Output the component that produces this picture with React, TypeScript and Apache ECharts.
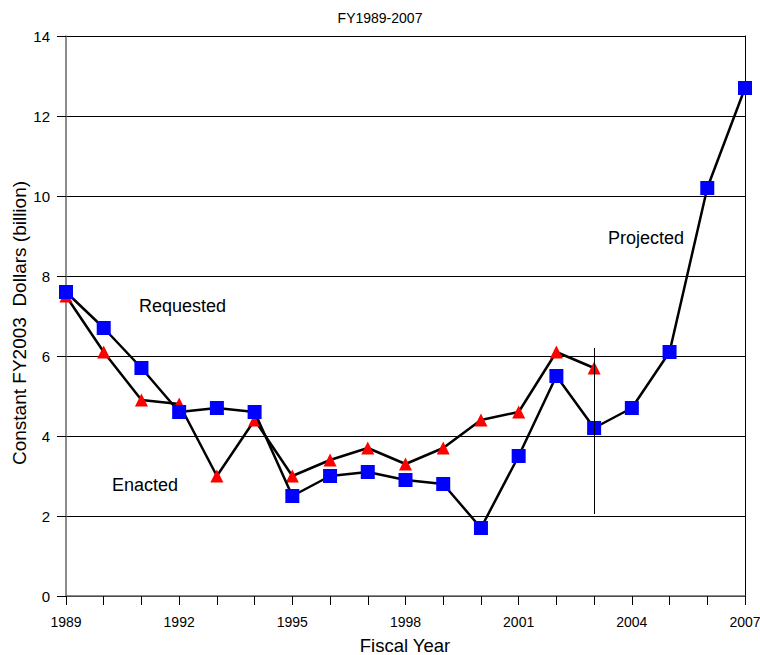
import React, { useEffect, useRef } from "react";
import * as echarts from "echarts";

const years = ["1989","1990","1991","1992","1993","1994","1995","1996","1997","1998","1999","2000","2001","2002","2003","2004","2005","2006","2007"];
const requested = [7.6, 6.7, 5.7, 4.6, 4.7, 4.6, 2.5, 3.0, 3.1, 2.9, 2.8, 1.7, 3.5, 5.5, 4.2, 4.7, 6.1, 10.2, 12.7];
const enacted = [7.5, 6.1, 4.9, 4.8, 3.0, 4.4, 3.0, 3.4, 3.7, 3.3, 3.7, 4.4, 4.6, 6.1, 5.7];
const dividerYear = "2003";
const dividerRange = [2.05, 6.2];

const FONT = "Liberation Sans, Arial, sans-serif";

export default function App() {
  const ref = useRef<HTMLDivElement>(null);
  useEffect(() => {
    document.body.style.margin = "0";
    const chart = echarts.init(ref.current!, null, { renderer: "svg" });
    chart.setOption({
      animation: false,
      backgroundColor: "#fff",
      title: {
        text: "FY1989-2007",
        left: "center",
        top: 6,
        textStyle: { fontFamily: FONT, fontSize: 14, fontWeight: "normal", color: "#000" },
      },
      grid: { left: 66, right: 15, top: 36, bottom: 59, outerBoundsMode: "none", containLabel: false },
      xAxis: {
        type: "category",
        data: years,
        boundaryGap: false,
        axisLine: { lineStyle: { color: "#666", width: 1.5 } },
        axisTick: { interval: 0, length: 9, lineStyle: { color: "#000" } },
        axisLabel: { interval: 2, fontFamily: FONT, fontSize: 14, color: "#000", margin: 19 },
        splitLine: { show: false },
      },
      yAxis: [
        {
          type: "value",
          min: 0,
          max: 14,
          interval: 2,
          axisLine: { show: true, lineStyle: { color: "#666", width: 1.5 } },
          axisTick: { show: true, length: 9, lineStyle: { color: "#000" } },
          axisLabel: { fontFamily: FONT, fontSize: 15, color: "#000", margin: 16 },
          splitLine: { show: true, lineStyle: { color: "#000", width: 1 } },
        },
        {
          type: "value",
          min: 0,
          max: 14,
          interval: 2,
          position: "right",
          axisLine: { show: true, lineStyle: { color: "#000", width: 1 } },
          axisTick: { show: false },
          axisLabel: { show: false },
          splitLine: { show: false },
        },
      ],
      series: [
        {
          name: "Enacted",
          type: "line",
          data: enacted,
          symbol: "triangle",
          symbolSize: 13,
          itemStyle: { color: "#ff0000" },
          lineStyle: { color: "#000", width: 2.5 },
          z: 2,
          markLine: {
            silent: true,
            symbol: "none",
            label: { show: false },
            lineStyle: { color: "#000", width: 1, type: "solid" },
            data: [[{ coord: [dividerYear, dividerRange[0]] }, { coord: [dividerYear, dividerRange[1]] }]],
          },
        },
        {
          name: "Requested",
          type: "line",
          data: requested,
          symbol: "rect",
          symbolSize: 14,
          itemStyle: { color: "#0000ff" },
          lineStyle: { color: "#000", width: 2.5 },
          z: 3,
        },
      ],
      graphic: [
        {
          type: "text",
          x: 19,
          y: 323,
          rotation: Math.PI / 2,
          style: {
            text: "Constant FY2003  Dollars (billion)",
            fontFamily: FONT,
            fontSize: 19,
            fill: "#000",
            align: "center",
            verticalAlign: "middle",
          },
        },
        {
          type: "text",
          x: 405,
          y: 645,
          style: { text: "Fiscal Year", fontFamily: FONT, fontSize: 18.5, fill: "#000", align: "center", verticalAlign: "middle" },
        },
        { type: "text", x: 139, y: 306, style: { text: "Requested", fontFamily: FONT, fontSize: 18, fill: "#000", verticalAlign: "middle" } },
        { type: "text", x: 112, y: 485, style: { text: "Enacted", fontFamily: FONT, fontSize: 18, fill: "#000", verticalAlign: "middle" } },
        { type: "text", x: 608, y: 238, style: { text: "Projected", fontFamily: FONT, fontSize: 18, fill: "#000", verticalAlign: "middle" } },
      ],
    });
    return () => chart.dispose();
  }, []);
  return <div ref={ref} style={{ width: 760, height: 655 }} />;
}
